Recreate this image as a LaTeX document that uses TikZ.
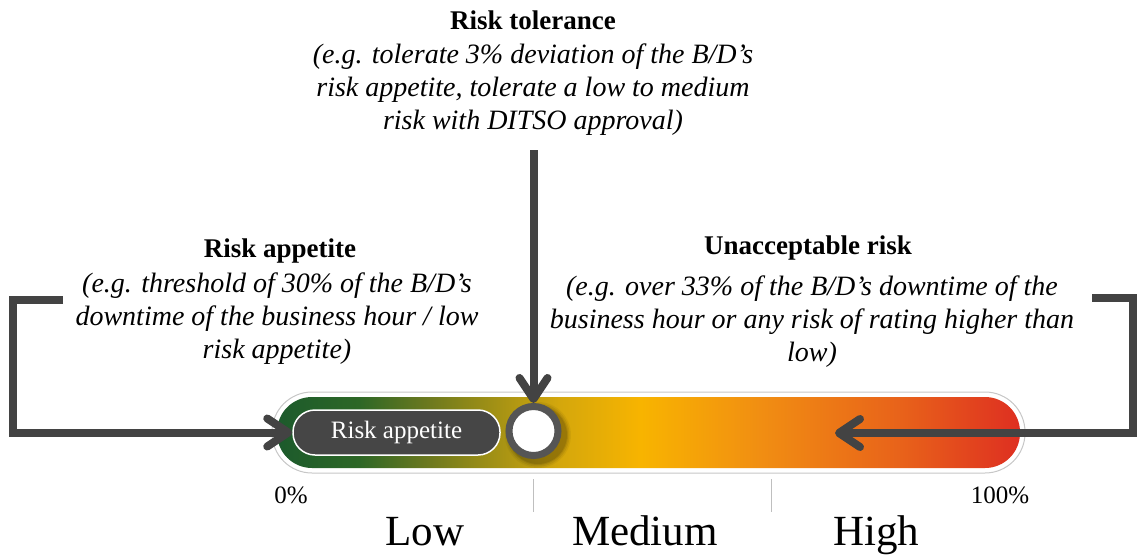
\documentclass[tikz,border=0pt]{standalone}
\usepackage{fontspec}
\setmainfont{Liberation Serif}
\usetikzlibrary{arrows.meta}
\definecolor{arrowgray}{HTML}{434343}
\definecolor{circgray}{HTML}{555555}
\definecolor{pillgray}{HTML}{464646}
\definecolor{rb0}{HTML}{1C5A2C}
\definecolor{rb1}{HTML}{2D6726}
\definecolor{rb2}{HTML}{6A781F}
\definecolor{rb3}{HTML}{958B17}
\definecolor{rb4}{HTML}{D4A70C}
\definecolor{rb5}{HTML}{F8B400}
\definecolor{rb6}{HTML}{F18E12}
\definecolor{rb7}{HTML}{E8621A}
\definecolor{rb8}{HTML}{DE2F21}
\pgfdeclarehorizontalshading{riskbar}{100bp}{color(0bp)=(rb0); color(25bp)=(rb0); color(30.5bp)=(rb1); color(35bp)=(rb2); color(38.5bp)=(rb3); color(44bp)=(rb4); color(49.5bp)=(rb5); color(57.5bp)=(rb6); color(67bp)=(rb7); color(75bp)=(rb8); color(100bp)=(rb8)}
\tikzset{
  conn/.style={draw=arrowgray, line width=8pt, -{Straight Barb[length=21pt,width=28pt,line cap=round,line join=round]}},
  titletext/.style={font=\fontsize{27}{33}\selectfont\bfseries, anchor=base, inner sep=0},
  bodytext/.style={font=\fontsize{28}{33}\selectfont\itshape, align=center, anchor=north, inner sep=0},
  pcttext/.style={font=\fontsize{25}{30}\selectfont, anchor=base, inner sep=0},
  lvltext/.style={font=\fontsize{43}{50}\selectfont, anchor=base, inner sep=0},
  tickline/.style={draw=black!25, line width=1.5pt},
  outerbar/.style={draw=black!22, line width=1pt, fill=white, minimum width=753pt, minimum height=81pt, rounded corners=40pt, inner sep=0},
  innerbar/.style={draw=none, shading=riskbar, minimum width=743pt, minimum height=71pt, rounded corners=35pt, inner sep=0},
  pill/.style={fill=pillgray, draw=white, line width=1.5pt, rounded corners=22pt, minimum width=207pt, minimum height=45pt, inner sep=0, text=white, font=\fontsize{25}{30}\selectfont},
  tolcircle/.style={circle, draw=circgray, line width=7pt, fill=white, minimum size=49pt, inner sep=0}
}
\begin{document}
\begin{tikzpicture}[x=1pt,y=-1pt]
\useasboundingbox (0,0) rectangle (1137,555);
% bar
\node[outerbar] (barout) at (648.5,432.5) {};
\node[innerbar] (bar) at (648.5,432.5) {};
% ticks
\draw[tickline] (533.5,479) -- (533.5,512);
\draw[tickline] (771.5,479) -- (771.5,512);
% pill
\node[pill] (pill) at (396.5,432.5) {Risk appetite};
% circle with soft shadow
\foreach \r/\o in {33/0.05,31.5/0.07,30/0.09,29/0.1} {
  \fill[black, opacity=\o] (538,435) circle (\r);
}
\node[tolcircle] (tc) at (533.5,431) {};
% connectors
\coordinate (tstart) at (533.5,150);
\draw[conn] (tstart) -- (tc.north);
\coordinate (lstart) at (63,300);
\coordinate (lcorner) at (13,300);
\draw[conn] (lstart) -- (lcorner) |- (pill.west);
\coordinate (rstart) at (1092,298);
\coordinate (rcorner) at (1133,298);
\coordinate (rend) at (835,433);
\draw[conn] (rstart) -- (rcorner) |- (rend);
% texts
\node[titletext] (tolT) at (533,29) {Risk tolerance};
\node[bodytext] (tolB) at (533,44) {(e.g. tolerate 3\% deviation of the B/D’s\\risk appetite, tolerate a low to medium\\risk with DITSO approval)};
\node[titletext] (appT) at (280,257) {Risk appetite};
\node[bodytext] (appB) at (277,273) {(e.g. threshold of 30\% of the B/D’s\\downtime of the business hour / low\\risk appetite)};
\node[titletext] (unT) at (808,254) {Unacceptable risk};
\node[bodytext] (unB) at (812,276) {(e.g. over 33\% of the B/D’s downtime of the\\business hour or any risk of rating higher than\\low)};
\node[pcttext] (p0) at (291,503) {0\%};
\node[pcttext] (p100) at (1000,503) {100\%};
\node[lvltext] (low) at (425,545) {Low};
\node[lvltext] (med) at (645,545) {Medium};
\node[lvltext] (high) at (876,545) {High};
\end{tikzpicture}
\end{document}
